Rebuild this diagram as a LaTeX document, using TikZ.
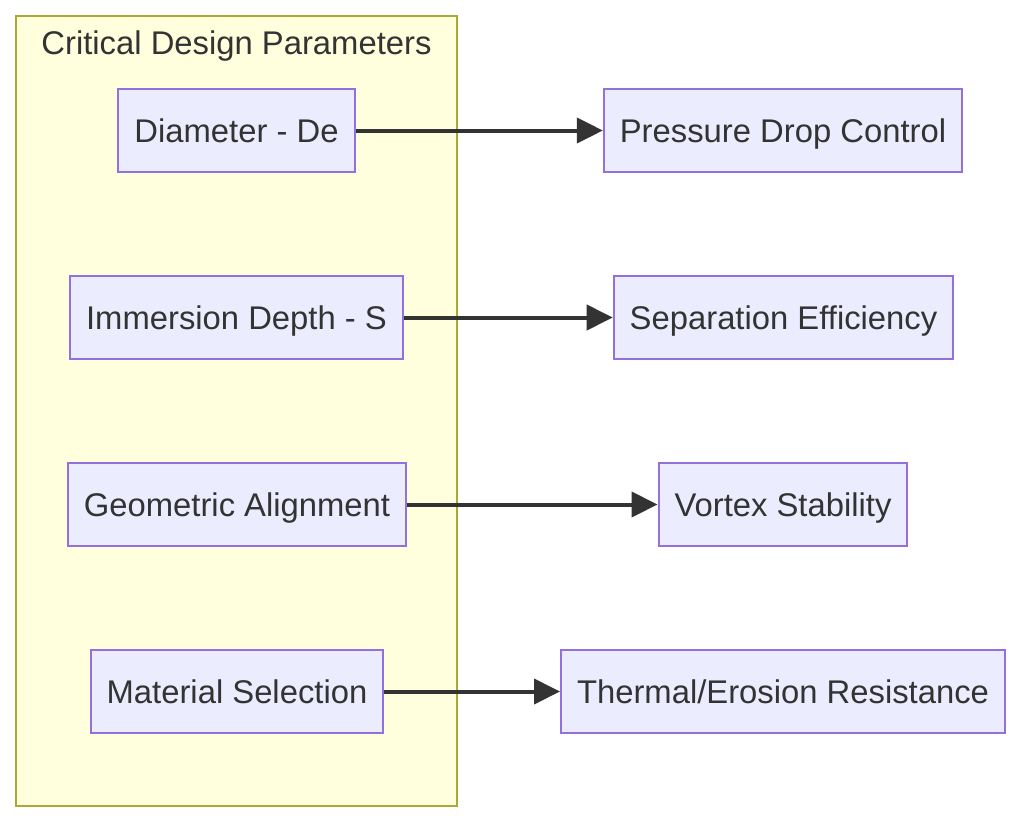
\documentclass[tikz,border=0pt]{standalone}
\usepackage{fontspec}
\setmainfont{Liberation Sans}
\usetikzlibrary{arrows.meta, positioning}
\definecolor{cnode}{HTML}{ECECFF}
\definecolor{cedge}{HTML}{9370DB}
\definecolor{cgroup}{HTML}{FFFFDE}
\definecolor{cgroupline}{HTML}{AAAA33}
\definecolor{ctext}{HTML}{333333}
\tikzset{
  every picture/.style={x=1pt, y=-1pt},
  param/.style={draw=cedge, fill=cnode, line width=2pt, text=ctext, minimum height=83pt, inner xsep=16pt,
    text height=29pt, text depth=6pt, font=\fontsize{32.8}{39}\selectfont},
  group/.style={draw=cgroupline, fill=cgroup, line width=2pt},
  grouptitle/.style={text=ctext, text height=29pt, text depth=6pt, font=\fontsize{32.8}{39}\selectfont},
  link/.style={-{Triangle[length=26pt, width=25pt]}, draw=ctext, line width=4pt},
}
\begin{document}
\begin{tikzpicture}
  \useasboundingbox[fill=white] (0,0) rectangle (1024,822);
  % group box
  \node[group, minimum width=441pt, minimum height=790pt, inner sep=0pt] (grp) at (236.5,411) {};
  \node[grouptitle] (grptitle) at (236.5,43) {Critical Design Parameters};
  % parameters
  \node[param] (dia) at (236.5,130.5) {Diameter - De};
  \node[param] (imm) at (236.5,317.5) {Immersion Depth - S};
  \node[param] (geo) at (237,504.5) {Geometric Alignment};
  \node[param] (mat) at (237,691.5) {Material Selection};
  % effects
  \node[param] (pdc) at (783,130.5) {Pressure Drop Control};
  \node[param] (sep) at (783.5,317.5) {Separation Efficiency};
  \node[param] (vor) at (783,504.5) {Vortex Stability};
  \node[param] (ter) at (783,691.5) {Thermal/Erosion Resistance};
  % links
  \draw[link] (dia) -- (pdc);
  \draw[link] (imm) -- (sep);
  \draw[link] (geo) -- (vor);
  \draw[link] (mat) -- (ter);
\end{tikzpicture}
\end{document}
